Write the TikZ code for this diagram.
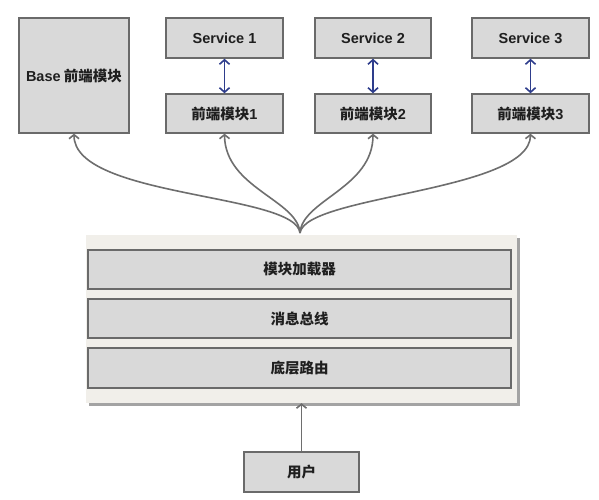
\documentclass[tikz,border=0pt]{standalone}
\usepackage{fontspec}
\newfontfamily\cjk{Noto Sans CJK SC}
\newfontfamily\lat{Liberation Sans}
\usetikzlibrary{arrows.meta,shadows}
\definecolor{boxfill}{HTML}{D9D9D9}
\definecolor{boxline}{HTML}{6A6A6A}
\definecolor{contfill}{HTML}{F1EFEA}
\definecolor{linkblue}{HTML}{2E3D8C}
\definecolor{curvegray}{HTML}{6E6E6E}
\begin{document}
\begin{tikzpicture}[x=1pt,y=-1pt,
  box/.style={draw=boxline,line width=1.4pt,fill=boxfill,rectangle,inner sep=0pt,
    font=\cjk\bfseries\fontsize{14.5}{16}\selectfont,text=black!88},
  cont/.style={fill=contfill,draw=none,rectangle,inner sep=0pt,
    drop shadow={shadow xshift=2.5pt,shadow yshift=-2.5pt,fill=black!45,opacity=0.8}},
  link/.style={draw=linkblue,line width=1.6pt,{Straight Barb[length=4.5pt,width=10pt]}-{Straight Barb[length=4.5pt,width=10pt]}},
  feed/.style={draw=curvegray,line width=1.6pt,-{Straight Barb[length=4pt,width=10pt]}}]
\useasboundingbox (0,0) rectangle (599,500);
\fill[white] (0,0) rectangle (599,500);
% top row
\node[box,minimum width=110pt,minimum height=115pt] (base) at (74,75.5) {{\lat\bfseries Base} 前端模块};
\node[box,minimum width=117pt,minimum height=40pt] (s1) at (224.5,38) {\lat\bfseries Service 1};
\node[box,minimum width=117pt,minimum height=39pt] (f1) at (224.5,113.5) {前端模块{\lat\bfseries 1}};
\node[box,minimum width=116pt,minimum height=40pt] (s2) at (373,38) {\lat\bfseries Service 2};
\node[box,minimum width=116pt,minimum height=39pt] (f2) at (373,113.5) {前端模块{\lat\bfseries 2}};
\node[box,minimum width=117pt,minimum height=40pt] (s3) at (530.5,38) {\lat\bfseries Service 3};
\node[box,minimum width=117pt,minimum height=39pt] (f3) at (530.5,113.5) {前端模块{\lat\bfseries 3}};
\draw[link] (s1.south) -- (f1.north);
\draw[link] (s2.south) -- (f2.north);
\draw[link] (s3.south) -- (f3.north);
% container
\node[cont,minimum width=431pt,minimum height=168pt] (cont) at (301.5,319) {};
\node[box,minimum width=423pt,minimum height=39pt] (loader) at (299.5,269.5) {模块加载器};
\node[box,minimum width=423pt,minimum height=39pt] (bus) at (299.5,318.5) {消息总线};
\node[box,minimum width=423pt,minimum height=40pt] (route) at (299.5,368) {底层路由};
% curves
\coordinate (hub) at (300,233);
\draw[feed] (hub) .. controls (296,193) and (74,198) .. (base.south);
\draw[feed] (hub) .. controls (298,200) and (225,188) .. (f1.south);
\draw[feed] (hub) .. controls (302,200) and (373,188) .. (f2.south);
\draw[feed] (hub) .. controls (305,195) and (530,192) .. (f3.south);
% user
\node[box,minimum width=115pt,minimum height=40pt] (user) at (301.5,472) {用户};
\draw[feed] (user.north) -- (cont.south);
\end{tikzpicture}
\end{document}
